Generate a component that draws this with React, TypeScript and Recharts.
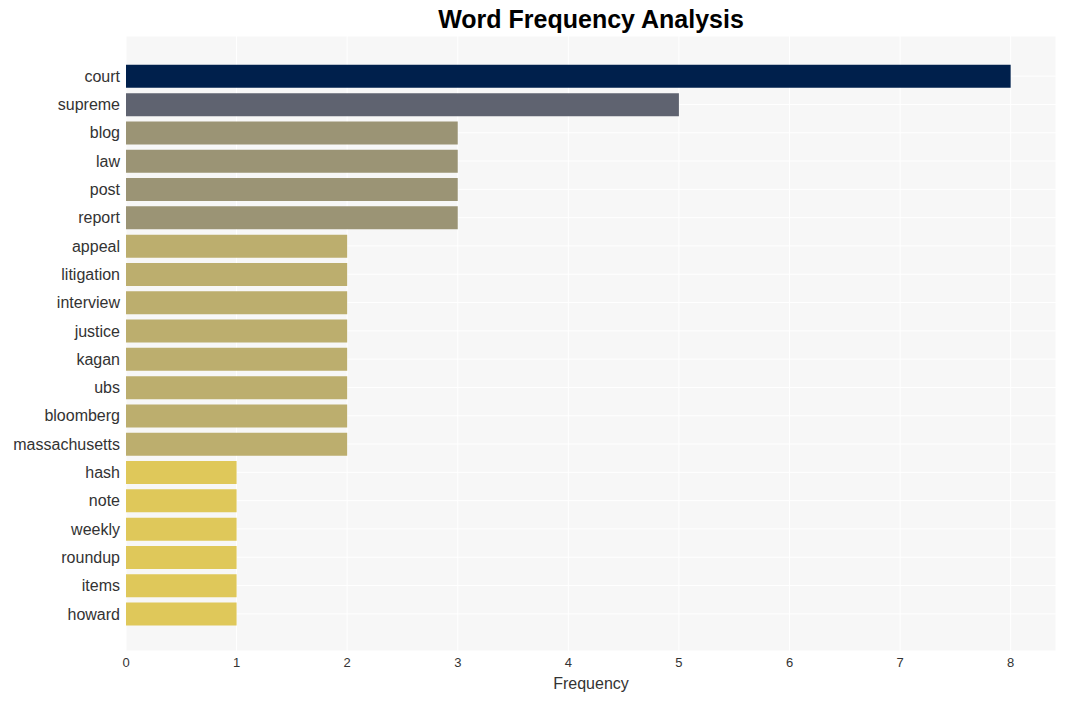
import { Bar, BarChart, CartesianGrid, Cell, XAxis, YAxis } from 'recharts';

const words = [
  'court', 'supreme', 'blog', 'law', 'post', 'report', 'appeal', 'litigation',
  'interview', 'justice', 'kagan', 'ubs', 'bloomberg', 'massachusetts',
  'hash', 'note', 'weekly', 'roundup', 'items', 'howard',
];
const counts = [8, 5, 3, 3, 3, 3, 2, 2, 2, 2, 2, 2, 2, 2, 1, 1, 1, 1, 1, 1];
const xTicks = [0, 1, 2, 3, 4, 5, 6, 7, 8];

const colorFor = (v: number) => {
  if (v >= 8) return '#00204c';
  if (v >= 5) return '#5f6370';
  if (v >= 3) return '#9b9475';
  if (v >= 2) return '#bcae6e';
  return '#dfc85a';
};

const data = words.map((word, i) => ({ word, count: counts[i] }));

export default function App() {
  return (
    <div
      style={{
        position: 'absolute',
        left: 0,
        top: 0,
        width: 1065,
        height: 701,
        background: '#fff',
        fontFamily: '"Liberation Sans", Arial, sans-serif',
      }}
    >
      <div
        style={{
          position: 'absolute',
          left: 126,
          width: 930,
          top: 5,
          textAlign: 'center',
          fontSize: 25,
          fontWeight: 'bold',
          color: '#000',
        }}
      >
        Word Frequency Analysis
      </div>
      <BarChart
        width={1065}
        height={701}
        data={data}
        layout="vertical"
        margin={{ top: 36, right: 9, left: 0, bottom: 0 }}
        barCategoryGap="10%"
      >
        <CartesianGrid stroke="#ffffff" strokeWidth={1} fill="#f7f7f7" />
        <XAxis
          type="number"
          domain={[0, 8.41]}
          ticks={xTicks}
          height={50}
          axisLine={false}
          tickLine={false}
          tick={{ fontSize: 13, fill: '#333' }}
          tickMargin={1}
          label={{ value: 'Frequency', position: 'insideBottom', offset: 12, fontSize: 16, fill: '#333' }}
        />
        <YAxis
          type="category"
          dataKey="word"
          width={126}
          axisLine={false}
          tickLine={false}
          interval={0}
          padding={{ top: 26, bottom: 23 }}
          tick={{ fontSize: 16, fill: '#333' }}
          tickMargin={0}
        />
        <Bar dataKey="count" isAnimationActive={false}>
          {data.map((d) => (
            <Cell key={d.word} fill={colorFor(d.count)} />
          ))}
        </Bar>
      </BarChart>
    </div>
  );
}
